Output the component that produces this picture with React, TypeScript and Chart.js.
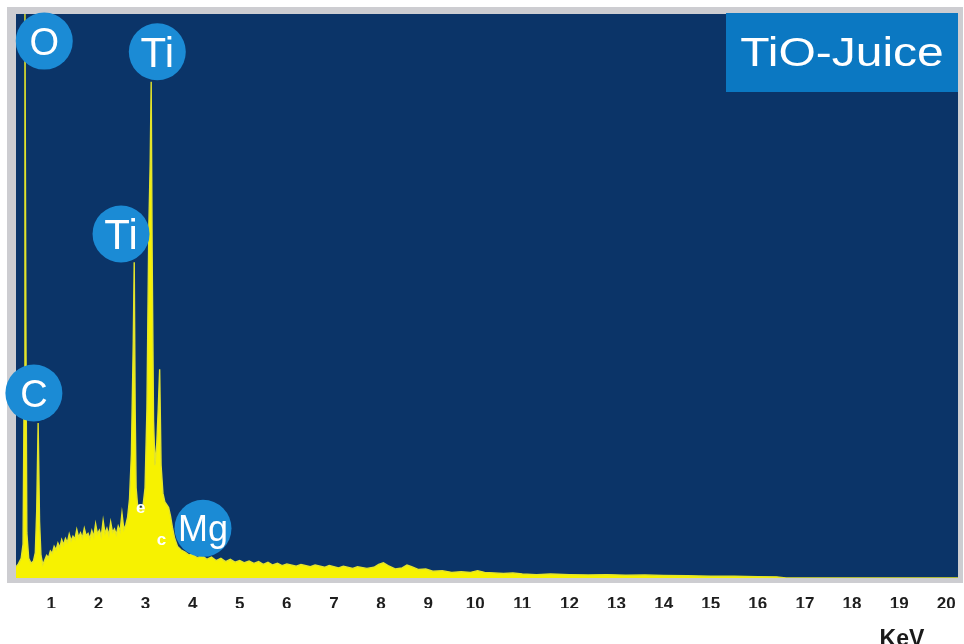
import { useEffect, useRef } from 'react';
import { Chart, registerables } from 'chart.js';

Chart.register(...registerables);

// EDS spectrum: photon energy (keV) and counts as % of full scale
const energies = [
  0.25, 0.3, 0.36, 0.4, 0.42, 0.44, 0.46, 0.48, 0.52, 0.57,
  0.62, 0.66, 0.69, 0.72, 0.75, 0.78, 0.82, 0.86, 0.9, 0.94,
  0.98, 1.02, 1.06, 1.1, 1.14, 1.18, 1.22, 1.26, 1.3, 1.34,
  1.38, 1.42, 1.46, 1.5, 1.54, 1.58, 1.62, 1.66, 1.7, 1.74,
  1.78, 1.82, 1.86, 1.9, 1.94, 1.98, 2.02, 2.06, 2.1, 2.14,
  2.18, 2.22, 2.26, 2.3, 2.34, 2.38, 2.42, 2.46, 2.5, 2.54,
  2.58, 2.62, 2.66, 2.7, 2.74, 2.76, 2.78, 2.8, 2.83, 2.87,
  2.91, 2.95, 2.99, 3.03, 3.07, 3.1, 3.12, 3.14, 3.17, 3.2,
  3.24, 3.27, 3.3, 3.33, 3.37, 3.41, 3.45, 3.49, 3.53, 3.57,
  3.62, 3.68, 3.75, 3.84, 3.92, 4.0, 4.1, 4.2, 4.3, 4.4,
  4.5, 4.6, 4.7, 4.8, 4.9, 5.0, 5.1, 5.2, 5.3, 5.4,
  5.5, 5.6, 5.7, 5.8, 5.9, 6.0, 6.2, 6.3, 6.5, 6.6,
  6.8, 6.9, 7.1, 7.2, 7.4, 7.5, 7.7, 7.85, 7.95, 8.05,
  8.15, 8.3, 8.45, 8.55, 8.65, 8.8, 8.95, 9.1, 9.3, 9.5,
  9.7, 9.9, 10.05, 10.2, 10.4, 10.6, 10.8, 11.0, 11.3, 11.6,
  12.0, 12.4, 12.8, 13.2, 13.6, 14.0, 14.5, 15.0, 15.5, 16.0,
  16.4, 16.6, 20.25,
];

const counts = [
  2.0, 2.5, 3.5, 6, 30, 100, 45, 8, 3.5, 2.6,
  3.0, 4.5, 12, 27.5, 10, 4, 2.4, 3.2, 4.0, 3.6,
  4.8, 4.4, 5.6, 5.0, 6.2, 5.4, 6.8, 5.9, 7.0, 6.3,
  7.8, 6.6, 7.4, 6.9, 8.6, 7.2, 8.0, 7.1, 8.8, 7.5,
  7.9, 7.0, 8.4, 7.3, 9.6, 7.8, 8.5, 7.4, 10.2, 7.9,
  8.8, 7.6, 9.9, 8.1, 8.7, 7.7, 9.2, 8.3, 11.5, 8.6,
  9.4, 10.8, 14, 22, 42, 56, 30, 16, 13, 12.5,
  12, 13, 16, 30, 62, 74, 88, 58, 28, 20,
  24, 30, 37, 20, 15, 13.5, 13, 12.5, 11, 9,
  7, 5.6, 5.0, 4.6, 4.1, 4.2, 3.6, 4.0, 3.3, 3.7,
  3.1, 3.5, 2.9, 3.3, 2.8, 3.1, 2.7, 3.0, 2.6, 2.9,
  2.4, 2.8, 2.3, 2.6, 2.2, 2.5, 2.1, 2.4, 2.0, 2.3,
  1.9, 2.2, 1.8, 2.1, 1.7, 2.0, 1.7, 1.9, 2.4, 2.7,
  2.2, 1.6, 1.8, 2.3, 2.0, 1.5, 1.6, 1.2, 1.3, 1.0,
  1.1, 1.0, 1.3, 1.0, 0.9, 0.8, 0.9, 0.7, 0.6, 0.7,
  0.6, 0.55, 0.6, 0.5, 0.55, 0.45, 0.4, 0.3, 0.3, 0.25,
  0.2, 0, 0,
];

const tickValues = [1, 2, 3, 4, 5, 6, 7, 8, 9, 10, 11, 12, 13, 14, 15, 16, 17, 18, 19, 20];

// Element markers: symbol, energy (keV) and level (% of full scale) of the badge centre
const elementSymbols = ['O', 'Ti', 'Ti', 'C', 'Mg'];
const elementEnergies = [0.85, 3.25, 2.48, 0.63, 4.22];
const elementLevels = [95.2, 93.3, 61.0, 32.8, 8.8];
const elementFontSizes = [38, 42, 42, 38, 36];

// Small escape-peak marks
const minorMarks = ['e', 'c'];
const minorEnergies = [2.9, 3.34];
const minorLevels = [12.4, 6.6];

const sampleName = 'TiO-Juice';
const unitLabel = 'KeV';
const unitEnergy = 19.06;

const FONT = '"Liberation Sans", Arial, sans-serif';

const decorPlugin = {
  id: 'edsDecor',
  beforeDraw(chart: any) {
    const { ctx, chartArea: a } = chart;
    ctx.save();
    // grey frame around the plot
    ctx.fillStyle = '#cdcdd1';
    ctx.fillRect(a.left - 9, a.top - 7, a.right - a.left + 14, a.bottom - a.top + 12);
    // navy plot background
    ctx.fillStyle = '#0b3468';
    ctx.fillRect(a.left, a.top, a.right - a.left, a.bottom - a.top);
    ctx.restore();
  },
  afterDraw(chart: any) {
    const { ctx, chartArea: a, scales } = chart;
    const xs = scales.x;
    const ys = scales.y;
    ctx.save();

    // sample name box
    const boxW = 232;
    const boxH = 79;
    ctx.fillStyle = '#0b78c2';
    ctx.fillRect(a.right - boxW, a.top - 1, boxW, boxH);
    ctx.save();
    ctx.translate(a.right - boxW / 2, a.top - 1 + boxH / 2);
    ctx.scale(1.2, 1);
    ctx.fillStyle = '#ffffff';
    ctx.font = `40px ${FONT}`;
    ctx.textAlign = 'center';
    ctx.textBaseline = 'alphabetic';
    ctx.fillText(sampleName, 0, 40 * 0.716 / 2 - 1);
    ctx.restore();

    // element badges
    elementSymbols.forEach((sym, i) => {
      const cx = xs.getPixelForValue(elementEnergies[i]);
      const cy = ys.getPixelForValue(elementLevels[i]);
      ctx.beginPath();
      ctx.arc(cx, cy, 28.5, 0, Math.PI * 2);
      ctx.fillStyle = '#1b8bd5';
      ctx.fill();
      const fs = elementFontSizes[i];
      ctx.fillStyle = '#ffffff';
      ctx.font = `${fs}px ${FONT}`;
      ctx.textAlign = 'center';
      ctx.textBaseline = 'alphabetic';
      ctx.fillText(sym, cx, cy + fs * 0.716 / 2);
    });

    // escape marks
    minorMarks.forEach((m, i) => {
      const px = xs.getPixelForValue(minorEnergies[i]);
      const py = ys.getPixelForValue(minorLevels[i]);
      ctx.fillStyle = '#ffffff';
      ctx.font = `bold 17px ${FONT}`;
      ctx.textAlign = 'center';
      ctx.textBaseline = 'middle';
      ctx.fillText(m, px, py);
    });

    // axis unit
    ctx.fillStyle = '#1a1a1a';
    ctx.font = `bold 23px ${FONT}`;
    ctx.textAlign = 'center';
    ctx.textBaseline = 'alphabetic';
    ctx.fillText(unitLabel, xs.getPixelForValue(unitEnergy), a.bottom + 68);

    ctx.restore();
  },
};

export default function App() {
  const canvasRef = useRef<HTMLCanvasElement | null>(null);

  useEffect(() => {
    document.body.style.margin = '0';
    const canvas = canvasRef.current;
    if (!canvas) return;
    const chart = new Chart(canvas, {
      type: 'line',
      data: {
        datasets: [
          {
            data: energies.map((e, i) => ({ x: e, y: counts[i] })),
            borderColor: '#e4e42a',
            borderWidth: 1.4,
            backgroundColor: '#f7f200',
            fill: 'origin',
            pointRadius: 0,
            tension: 0,
          },
        ],
      },
      options: {
        responsive: false,
        animation: false,
        events: [],
        layout: { padding: { left: 16, top: 14, right: 6, bottom: 36 } },
        plugins: {
          legend: { display: false },
          tooltip: { enabled: false },
        },
        scales: {
          x: {
            type: 'linear',
            min: 0.25,
            max: 20.25,
            grid: { display: false, drawTicks: false },
            border: { display: false },
            afterBuildTicks: (axis: any) => {
              axis.ticks = tickValues.map((v) => ({ value: v }));
            },
            afterFit: (axis: any) => {
              axis.height = 30;
              axis.paddingLeft = 0;
              axis.paddingRight = 0;
            },
            ticks: {
              autoSkip: false,
              maxRotation: 0,
              padding: 16,
              color: '#1e1e1e',
              font: { family: FONT, size: 17, weight: 'bold' },
              callback: (v: any) => String(v),
            },
          },
          y: {
            display: false,
            min: 0,
            max: 100,
          },
        },
      },
      plugins: [decorPlugin],
    });
    return () => chart.destroy();
  }, []);

  return (
    <div style={{ width: 964, height: 644, background: '#ffffff' }}>
      <canvas ref={canvasRef} width={964} height={644} />
    </div>
  );
}
